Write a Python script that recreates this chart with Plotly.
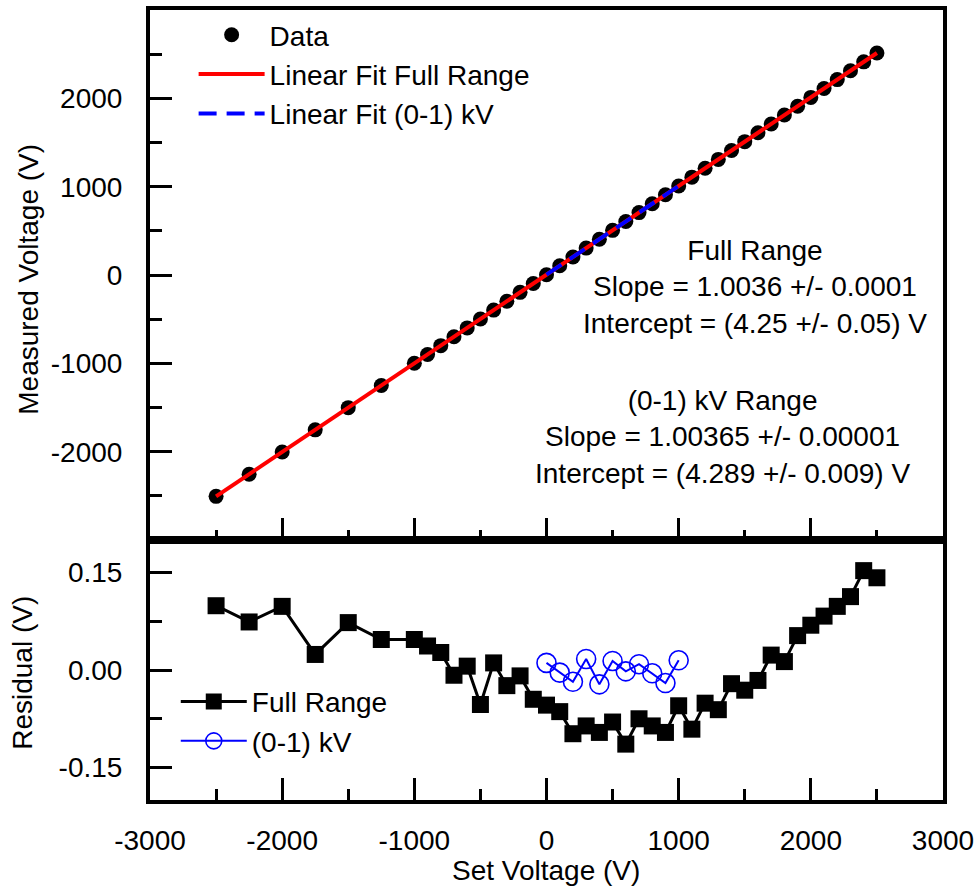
import plotly.graph_objects as go

# ---- data ----
set_voltage = [-2500, -2250, -2000, -1750, -1500, -1250, -1000, -900, -800, -700,
               -600, -500, -400, -300, -200, -100, 0, 100, 200, 300,
               400, 500, 600, 700, 800, 900, 1000, 1100, 1200, 1300,
               1400, 1500, 1600, 1700, 1800, 1900, 2000, 2100, 2200, 2300,
               2400, 2500]
measured_voltage = [-2505, -2254, -2003, -1752, -1501, -1250, -999, -899, -799, -698,
                    -598, -498, -397, -297, -196, -96, 4, 105, 205, 305,
                    406, 506, 606, 707, 807, 908, 1008, 1108, 1209, 1309,
                    1409, 1510, 1610, 1710, 1811, 1911, 2011, 2112, 2212, 2313,
                    2413, 2513]
fit_full_x = [-2500, 2500]
fit_full_y = [-2504.75, 2513.25]
fit_low_x = [0, 1000]
fit_low_y = [4.29, 1007.94]

residual_full = [0.099, 0.074, 0.098, 0.024, 0.073, 0.047, 0.047, 0.037, 0.027, -0.008,
                 0.006, -0.053, 0.011, -0.024, -0.009, -0.045, -0.054, -0.064, -0.098, -0.086,
                 -0.096, -0.080, -0.114, -0.075, -0.086, -0.096, -0.055, -0.091, -0.051, -0.061,
                 -0.021, -0.031, -0.016, 0.023, 0.013, 0.053, 0.069, 0.083, 0.098, 0.113,
                 0.153, 0.142]
low_voltage = [0, 100, 200, 300, 400, 500, 600, 700, 800, 900, 1000]
residual_low = [0.011, -0.004, -0.018, 0.017, -0.022, 0.014, -0.002, 0.009, -0.005, -0.020, 0.015]

x_ticks = [-3000, -2000, -1000, 0, 1000, 2000, 3000]
x_tick_text = ["-3000", "-2000", "-1000", "0", "1000", "2000", "3000"]
y_ticks = [-2000, -1000, 0, 1000, 2000]
y_tick_text = ["-2000", "-1000", "0", "1000", "2000"]
res_ticks = [-0.15, 0.0, 0.15]
res_tick_text = ["-0.15", "0.00", "0.15"]

FONT = "Liberation Sans, Arial, sans-serif"
FS = 28

fig = go.Figure()

fig.add_trace(go.Scatter(
    x=set_voltage, y=measured_voltage, mode="markers", name="Data",
    marker=dict(symbol="circle", size=15, color="black"),
    xaxis="x", yaxis="y", legend="legend"))
fig.add_trace(go.Scatter(
    x=fit_full_x, y=fit_full_y, mode="lines", name="Linear Fit Full Range",
    line=dict(color="#ff0000", width=4),
    xaxis="x", yaxis="y", legend="legend"))
fig.add_trace(go.Scatter(
    x=fit_low_x, y=fit_low_y, mode="lines", name="Linear Fit (0-1) kV",
    line=dict(color="#0000ff", width=4, dash="18px,10px"),
    xaxis="x", yaxis="y", legend="legend"))

fig.add_trace(go.Scatter(
    x=set_voltage, y=residual_full, mode="lines+markers", name="Full Range",
    line=dict(color="black", width=3),
    marker=dict(symbol="square", size=17, color="black"),
    xaxis="x2", yaxis="y2", legend="legend2"))
fig.add_trace(go.Scatter(
    x=low_voltage, y=residual_low, mode="lines+markers", name="(0-1) kV",
    line=dict(color="#0000ff", width=2),
    marker=dict(symbol="circle-open", size=19, color="#0000ff", line=dict(width=1.6)),
    xaxis="x2", yaxis="y2", legend="legend2"))

axis_common = dict(
    showline=True, linecolor="black", linewidth=4, mirror=True,
    ticks="inside", ticklen=22, tickwidth=3, tickcolor="black",
    showgrid=False, zeroline=False, automargin=False,
    tickfont=dict(family=FONT, size=FS, color="black"),
)
split = 0.329
title_font = dict(family=FONT, size=FS, color="black")

fig.update_layout(
    width=979, height=892,
    margin=dict(l=150, r=36, t=10, b=92),
    paper_bgcolor="white", plot_bgcolor="white",
    font=dict(family=FONT, size=FS, color="black"),
    xaxis=dict(axis_common, domain=[0, 1], anchor="y", range=[-3000, 3000],
               tickvals=x_ticks, showticklabels=False, matches="x2",
               minor=dict(dtick=500, tick0=0, ticks="inside", ticklen=10,
                          tickwidth=3, tickcolor="black")),
    yaxis=dict(axis_common, domain=[split, 1], anchor="x", range=[-3000, 3000],
               tickvals=y_ticks, ticktext=y_tick_text, ticklabelstandoff=18,
               minor=dict(dtick=500, tick0=0, ticks="inside", ticklen=12,
                          tickwidth=3, tickcolor="black")),
    xaxis2=dict(axis_common, domain=[0, 1], anchor="y2", range=[-3000, 3000],
                tickvals=x_ticks, ticktext=x_tick_text, ticklabelstandoff=12,
                minor=dict(dtick=500, tick0=0, ticks="inside", ticklen=11,
                           tickwidth=3, tickcolor="black")),
    yaxis2=dict(axis_common, domain=[0, split], anchor="x2", range=[-0.2, 0.2],
                tickvals=res_ticks, ticktext=res_tick_text, ticklabelstandoff=18,
                minor=dict(dtick=0.075, tick0=0, ticks="inside", ticklen=12,
                           tickwidth=3, tickcolor="black")),
    legend=dict(x=0.055, y=1.0, xanchor="left", yanchor="top",
                bgcolor="rgba(0,0,0,0)", itemwidth=66,
                font=dict(family=FONT, size=FS, color="black"),
                tracegroupgap=0),
    legend2=dict(x=0.0325, y=0.156, xanchor="left", yanchor="top",
                 bgcolor="rgba(0,0,0,0)", itemwidth=66,
                 font=dict(family=FONT, size=FS, color="black"),
                 tracegroupgap=0),
    showlegend=True,
    annotations=[
        dict(text="Full Range<br>Slope = 1.0036 +/- 0.0001<br>Intercept = (4.25 +/- 0.05) V",
             xref="paper", yref="paper", x=0.763, y=0.650, xanchor="center", yanchor="middle",
             align="center", showarrow=False, font=title_font),
        dict(text="(0-1) kV Range<br>Slope = 1.00365 +/- 0.00001<br>Intercept = (4.289 +/- 0.009) V",
             xref="paper", yref="paper", x=0.7214, y=0.4595, xanchor="center", yanchor="middle",
             align="center", showarrow=False, font=title_font),
        # axis titles
        dict(text="Measured Voltage (V)", textangle=-90, xref="paper", yref="paper",
             x=-0.1535, y=0.6589, xanchor="center", yanchor="middle",
             showarrow=False, font=title_font),
        dict(text="Residual (V)", textangle=-90, xref="paper", yref="paper",
             x=-0.1610, y=0.1614, xanchor="center", yanchor="middle",
             showarrow=False, font=title_font),
        dict(text="Set Voltage (V)", xref="paper", yref="paper",
             x=0.4994, y=-0.0890, xanchor="center", yanchor="middle",
             showarrow=False, font=title_font),
    ],
)

fig.write_html("out.html", config={"displayModeBar": False},
               post_script="document.body.style.margin='0px';")
